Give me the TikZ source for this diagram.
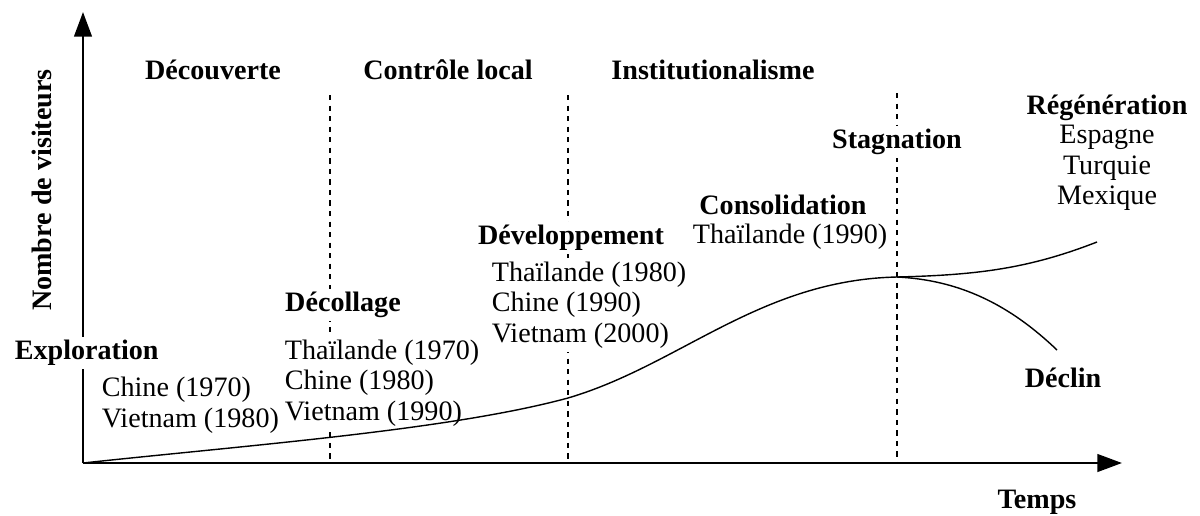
\documentclass[tikz,border=0pt]{standalone}
\usepackage{fontspec}
\setmainfont{Liberation Serif}
\usetikzlibrary{arrows.meta}

\begin{document}
\begin{tikzpicture}[x=0.02cm,y=-0.02cm,font=\fontsize{16}{17.4}\selectfont]
    \tikzstyle{phase}=[font=\fontsize{16}{17.4}\selectfont\bfseries,fill=white,inner sep=2pt]
    \tikzstyle{pays}=[align=left,fill=white,inner sep=2pt]
    \tikzstyle{axe}=[line width=1.4pt,-{Triangle[length=14pt,width=10pt]}]
    \tikzstyle{limite}=[dashed,line width=0.6pt]
    \useasboundingbox (0,0) rectangle (1200,515);
    % axes
    \coordinate (o) at (83,463);
    \coordinate (ytop) at (83,12);
    \coordinate (xend) at (1122,463);
    \draw[axe] (o) -- (ytop);
    \draw[axe] (o) -- (xend);
    % limites entre phases
    \coordinate (d1) at (330,95);
    \coordinate (d2) at (568,95);
    \coordinate (d3) at (897,93);
    \draw[limite] (d1) -- (d1 |- o);
    \draw[limite] (d2) -- (d2 |- o);
    \draw[limite] (d3) -- (d3 |- o);
    % etiquettes
    \node[phase] (decouverte) at (213,70) {Découverte};
    \node[phase] (controle) at (448,70) {Contrôle local};
    \node[phase] (institution) at (713,70) {Institutionalisme};
    \node[phase,anchor=west] (exploration) at (11,353) {Exploration};
    \node[pays,anchor=west] (l_explo) at (98,405) {Chine (1970)\\Vietnam (1980)};
    \node[phase] (decollage) at (343,305) {Décollage};
    \node[pays,anchor=west] (l_decol) at (281,383) {Thaïlande (1970)\\Chine (1980)\\Vietnam (1990)};
    \node[phase] (developpement) at (571,238) {Développement};
    \node[pays,anchor=west] (l_dev) at (488,305) {Thaïlande (1980)\\Chine (1990)\\Vietnam (2000)};
    \node[phase] (consolidation) at (783,205) {Consolidation};
    \node[pays] (l_conso) at (790,237) {Thaïlande (1990)};
    \node[phase] (stagnation) at (897,142) {Stagnation};
    \node[phase] (regeneration) at (1107,108) {Régénération};
    \node[pays,align=center] (l_reg) at (1107,168) {Espagne\\Turquie\\Mexique};
    \node[phase] (declin) at (1063,378) {Déclin};
    \node[phase] (temps) at (1037,502) {Temps};
    \node[phase,rotate=90] (visiteurs) at (42,190) {Nombre de visiteurs};
    % courbe
    \coordinate (m) at (568,398);
    \coordinate (s) at (897,277);
    \coordinate (r) at (1097,242);
    \coordinate (c) at (1057,350);
    \draw[line width=0.8pt] (o) .. controls (250,445) and (450,430) .. (m)
        .. controls (680,365) and (760,280) .. (s);
    \draw[line width=0.8pt] (s) .. controls (980,275) and (1030,268) .. (r);
    \draw[line width=0.8pt] (s) .. controls (960,280) and (1010,305) .. (c);
\end{tikzpicture}
\end{document}
